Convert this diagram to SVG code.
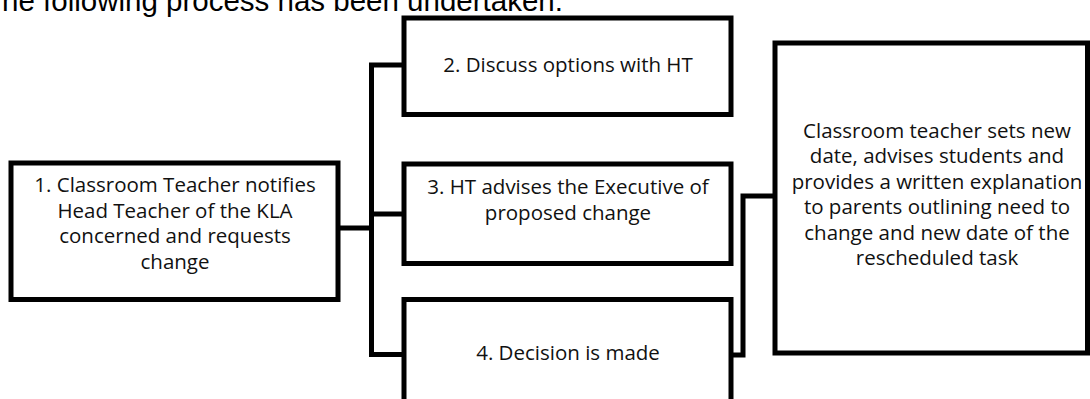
<svg xmlns="http://www.w3.org/2000/svg" width="1090" height="399" viewBox="0 0 1090 399">
<style>
.box{fill:#fff;stroke:#000;stroke-width:5;stroke-linejoin:miter}
.con{fill:none;stroke:#000;stroke-width:5;stroke-linejoin:miter;stroke-linecap:square}
.t{font-family:"Open Sans","Noto Sans",sans-serif;font-size:20.5px;fill:#111;text-anchor:middle}
.title{font-family:"Liberation Sans",Arial,sans-serif;font-size:29.5px;fill:#000}
</style>
<rect width="1090" height="399" fill="#fff"/>
<text class="title" x="-16" y="11">The following process has been undertaken:</text>
<g id="connectors">
<polyline class="con" points="338,228 371.5,228"/>
<polyline class="con" points="404,65 371.5,65 371.5,354.5 404,354.5"/>
<polyline class="con" points="371.5,214 404,214"/>
<polyline class="con" points="731,355 743,355 743,196 775,196"/>
</g>
<g id="node1">
<rect class="box" x="11" y="163" width="327" height="136.5"/>
<text class="t" x="175" y="192">1. Classroom Teacher notifies</text>
<text class="t" x="175" y="217.5">Head Teacher of the KLA</text>
<text class="t" x="175" y="243">concerned and requests</text>
<text class="t" x="175" y="268.5">change</text>
</g>
<g id="node2">
<rect class="box" x="404" y="18" width="327" height="96.5"/>
<text class="t" x="568" y="72">2. Discuss options with HT</text>
</g>
<g id="node3">
<rect class="box" x="404" y="164" width="327" height="99.5"/>
<text class="t" x="568" y="194">3. HT advises the Executive of</text>
<text class="t" x="568" y="220">proposed change</text>
</g>
<g id="node4">
<rect class="box" x="404" y="299.5" width="327" height="130"/>
<text class="t" x="568" y="360">4. Decision is made</text>
</g>
<g id="node5">
<rect class="box" x="775" y="43" width="312.5" height="310"/>
<text class="t" x="937" y="138">Classroom teacher sets new</text>
<text class="t" x="937" y="163.4">date, advises students and</text>
<text class="t" x="937" y="188.8">provides a written explanation</text>
<text class="t" x="937" y="214.2">to parents outlining need to</text>
<text class="t" x="937" y="239.6">change and new date of the</text>
<text class="t" x="937" y="265">rescheduled task</text>
</g>
</svg>
